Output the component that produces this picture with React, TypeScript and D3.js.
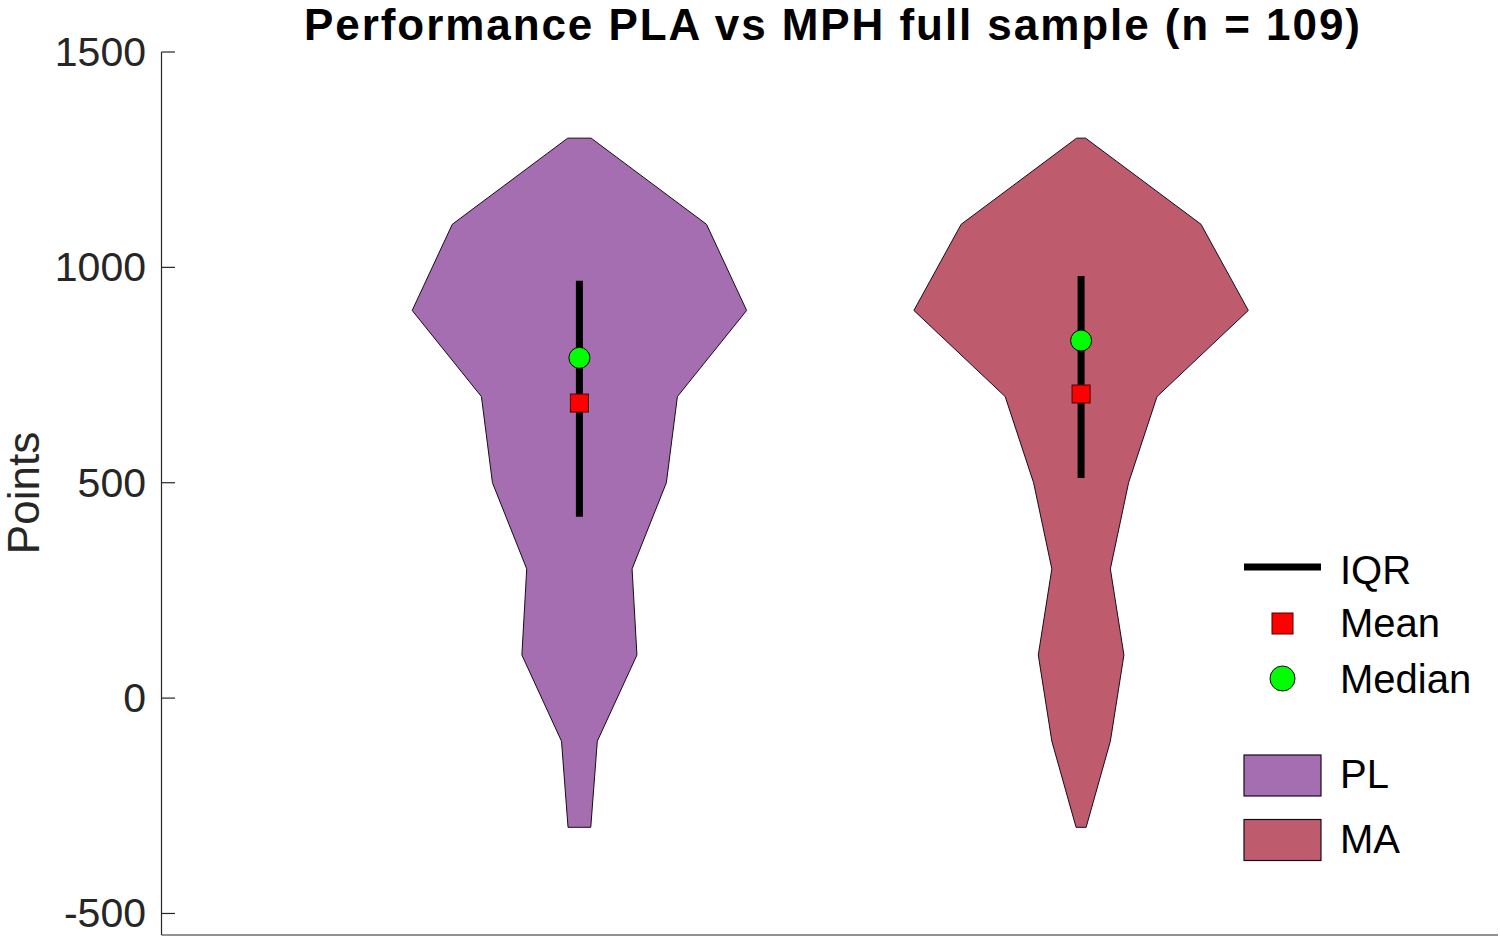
import React from "react";
import * as d3 from "d3";

// group names and colours
const categories = ["PL", "MA"];
const fills = ["#A46EB0", "#BE5C6D"];

// violin outline: density levels (points) and relative half widths
const levels = [1300, 1100, 900, 700, 500, 300, 100, -100, -300];
const plWidths = [0.07, 0.76, 1, 0.586, 0.52, 0.315, 0.344, 0.107, 0.068];
const maWidths = [0.027, 0.717, 1, 0.454, 0.284, 0.175, 0.256, 0.175, 0.03];
const widths = [plWidths, maWidths];

// summary stats
const iqrLow = [421, 511];
const iqrHigh = [969, 980];
const means = [685, 706];
const medians = [790, 830];

const yTicks = [-500, 0, 500, 1000, 1500];
const legendItems = ["IQR", "Mean", "Median"];

const W = 1500;
const H = 936;
const font = "'Liberation Sans', Arial, Helvetica, sans-serif";
const ink = "#262626";

const App = () => {
  const y = d3.scaleLinear().domain([-550, 1500]).range([935, 52]);
  const x = d3.scaleLinear().domain([0.167, 2.831]).range([161.5, 1498]);
  const maxHalf = 1 / 3;

  const violinPath = (i: number) => {
    const c = i + 1;
    const pts: [number, number][] = [];
    levels.forEach((lv, k) => pts.push([x(c + widths[i][k] * maxHalf), y(lv)]));
    for (let k = levels.length - 1; k >= 0; k--) {
      pts.push([x(c - widths[i][k] * maxHalf), y(levels[k])]);
    }
    return d3.line()(pts) + "Z";
  };

  const legX0 = 1244;
  const legX1 = 1321;
  const legTextX = 1340;

  return (
    <svg
      width={W}
      height={H}
      style={{ position: "absolute", left: 0, top: 0, background: "#fff" }}
      fontFamily={font}
    >
      {/* violins */}
      {categories.map((name, i) => (
        <path
          key={name}
          d={violinPath(i)}
          fill={fills[i]}
          stroke="#1a0a1a"
          strokeWidth={1}
        />
      ))}

      {/* IQR, mean, median */}
      {categories.map((name, i) => {
        const cx = x(i + 1);
        return (
          <g key={"s" + name}>
            <line
              x1={cx}
              x2={cx}
              y1={y(iqrLow[i])}
              y2={y(iqrHigh[i])}
              stroke="#000"
              strokeWidth={7}
            />
            <circle
              cx={cx}
              cy={y(medians[i])}
              r={10.5}
              fill="#00FF00"
              stroke="#000"
              strokeWidth={1}
            />
            <rect
              x={cx - 9}
              y={y(means[i]) - 9}
              width={18}
              height={18}
              fill="#FF0000"
              stroke="#4a0000"
              strokeWidth={1}
            />
          </g>
        );
      })}

      {/* y axis */}
      <line x1={161.5} x2={161.5} y1={y(1500)} y2={y(-550)} stroke={ink} strokeWidth={1.2} />
      <line x1={161.5} x2={1498} y1={y(-550)} y2={y(-550)} stroke={ink} strokeWidth={1.2} />
      {yTicks.map((t) => (
        <g key={t}>
          <line x1={161.5} x2={175} y1={y(t)} y2={y(t)} stroke={ink} strokeWidth={1.2} />
          <text
            x={146}
            y={y(t)}
            dy="0.34em"
            textAnchor="end"
            fontSize={41}
            fill={ink}
          >
            {t}
          </text>
        </g>
      ))}
      <text
        transform={`translate(39, ${493}) rotate(-90)`}
        textAnchor="middle"
        fontSize={44}
        fill={ink}
      >
        Points
      </text>

      {/* title */}
      <text
        x={832}
        y={40}
        textAnchor="middle"
        fontSize={44}
        fontWeight="bold"
        textLength={1056}
        lengthAdjust="spacing"
        fill="#000"
      >
        Performance PLA vs MPH full sample (n = 109)
      </text>

      {/* legend */}
      <line x1={legX0} x2={legX1} y1={567} y2={567} stroke="#000" strokeWidth={7} />
      <rect x={1272} y={613} width={21} height={21} fill="#FF0000" stroke="#4a0000" strokeWidth={1} />
      <circle cx={1282.5} cy={678.5} r={12.5} fill="#00FF00" stroke="#000" strokeWidth={1} />
      {legendItems.map((label, k) => (
        <text key={label} x={legTextX} y={[584, 637, 693][k]} fontSize={40} fill="#000">
          {label}
        </text>
      ))}
      {categories.map((name, i) => (
        <g key={"l" + name}>
          <rect
            x={legX0}
            y={755 + i * 64.5}
            width={legX1 - legX0}
            height={41}
            fill={fills[i]}
            stroke="#1a0a1a"
            strokeWidth={1.2}
          />
          <text x={legTextX} y={788 + i * 65} fontSize={40} fill="#000">
            {name}
          </text>
        </g>
      ))}
    </svg>
  );
};

export default App;
